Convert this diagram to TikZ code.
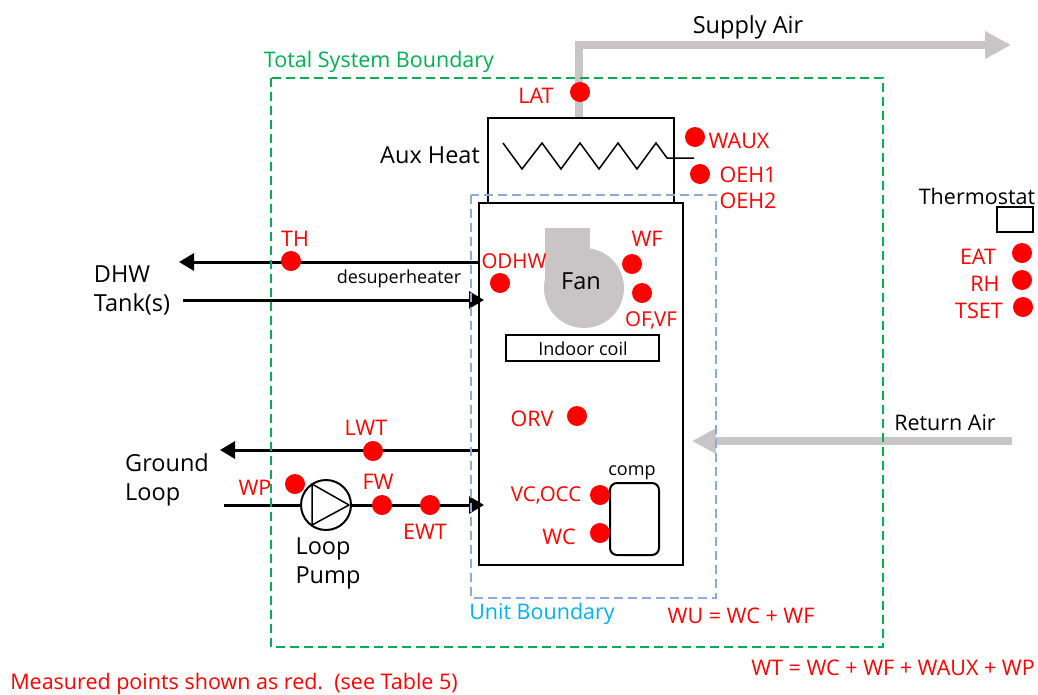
\documentclass[tikz,border=0pt]{standalone}
\usepackage{fontspec}
\setmainfont{Open Sans}
\usetikzlibrary{arrows,arrows.meta,shapes,positioning}
\definecolor{duct}{HTML}{C9C5C6}
\definecolor{totalgreen}{HTML}{00B050}
\definecolor{unitblue}{HTML}{8EAADB}
\definecolor{unittext}{HTML}{00B0F0}
\tikzset{
  txt/.style={inner sep=0pt, yshift=-1pt, font=\fontsize{21.5}{29}\selectfont, align=left},
  bigtxt/.style={txt, yshift=-1pt, font=\fontsize{23.5}{29}\selectfont},
  smalltxt/.style={inner sep=0pt, font=\fontsize{18}{20}\selectfont},
  redtxt/.style={txt, text=red},
  dot/.style={circle, fill=red, inner sep=0pt, minimum size=20pt},
  box/.style={draw=black, line width=2pt},
  pipe/.style={black, line width=3pt},
  piperr/.style={pipe, -{Triangle[length=15pt,width=17pt]}},
  ductline/.style={duct, line width=8pt},
  boundary/.style={line width=2pt, dash pattern=on 9pt off 5pt}
}
\begin{document}
\begin{tikzpicture}[x=1pt,y=-1pt]
	\useasboundingbox (0,0) rectangle (1038,694);
	% air ducts
	\coordinate (supplybot) at (579,118);
	\coordinate (supplycor) at (579,45);
	\coordinate (supplyend) at (1011,45);
	\coordinate (returnbeg) at (1012,441);
	\coordinate (returnend) at (692,441);
	\draw [ductline, -{Triangle[length=26pt,width=26pt]}] (supplybot) -- (supplycor) -- (supplyend);
	\draw [ductline, -{Triangle[length=24pt,width=24pt]}] (returnbeg) -- (returnend);
	% boxes
	\node [box, minimum width=186pt, minimum height=85pt, inner sep=0pt] (auxbox) at (581,160.5) {};
	\node [box, minimum width=204pt, minimum height=362pt, inner sep=0pt] (unitbox) at (581,384) {};
	\node [box, minimum width=153pt, minimum height=26pt, inner sep=0pt, line width=1.5pt] (coilbox) at (582.5,348) {};
	\node [box, minimum width=36pt, minimum height=25pt, inner sep=0pt, line width=1.5pt] (statbox) at (1015,219.5) {};
	\node [box, rounded corners=7pt, minimum width=49pt, minimum height=72pt, inner sep=0pt] (compbox) at (634.5,519) {};
	% heater coil
	\coordinate (coilend) at (694,158);
	\draw [line width=1.5pt] (503,143) -- (522,169) -- (542,143) -- (561,169) -- (580,143) -- (599,169)
		-- (618,143) -- (637,169) -- (656,143) -- (667,158) -- (coilend);
	% fan
	\fill [duct] (545,228) rectangle (590,290);
	\fill [duct] (584,288) circle (40);
	% pipes
	\coordinate (thbeg) at (479,262);
	\coordinate (thend) at (179,262);
	\coordinate (shbeg) at (183,300);
	\coordinate (shend) at (484,300);
	\coordinate (lwtbeg) at (479,450);
	\coordinate (lwtend) at (220,450);
	\coordinate (ewtbeg) at (224,505);
	\coordinate (ewtend) at (484,505);
	\node [draw=black, circle, line width=2pt, minimum size=50pt, inner sep=0pt] (pump) at (326,505) {};
	\draw [piperr] (thbeg) -- (thend);
	\draw [piperr] (shbeg) -- (shend);
	\draw [piperr] (lwtbeg) -- (lwtend);
	\draw [pipe] (ewtbeg) -- (pump.west);
	\draw [piperr] (pump.east) -- (ewtend);
	\draw [line width=1.5pt, line join=round] (312,484) -- (349,505) -- (312,525) -- cycle;
	% boundaries
	\draw [boundary, totalgreen] (271,78) rectangle (883,647);
	\draw [boundary, unitblue] (471,195) rectangle (716,598);
	% measured points
	\node [dot] (dotLAT) at (580,92) {};
	\node [dot] (dotWAUX) at (695,137) {};
	\node [dot] (dotOEH) at (700,174) {};
	\node [dot] (dotTH) at (291,261) {};
	\node [dot] (dotODHW) at (500,283) {};
	\node [dot] (dotWF) at (632,264) {};
	\node [dot] (dotOFVF) at (642,293) {};
	\node [dot] (dotORV) at (577,416) {};
	\node [dot] (dotLWT) at (373,451) {};
	\node [dot] (dotWP) at (295,484) {};
	\node [dot] (dotFW) at (382,505) {};
	\node [dot] (dotEWT) at (430,505) {};
	\node [dot] (dotVC) at (600,495) {};
	\node [dot] (dotWC) at (600,533) {};
	\node [dot] (dotEAT) at (1022,253) {};
	\node [dot] (dotRH) at (1022,280) {};
	\node [dot] (dotTSET) at (1023,307) {};
	% labels
	\node [bigtxt] (supply) at (748,25) {Supply Air};
	\node [txt, text=totalgreen] (total) at (379,61) {Total System Boundary};
	\node [redtxt] (labLAT) at (536,95) {LAT};
	\node [bigtxt] (aux) at (430,153) {Aux Heat};
	\node [redtxt] (labWAUX) at (739,140) {WAUX};
	\node [redtxt] (labOEHa) at (748,174) {OEH1};
	\node [redtxt] (labOEHb) at (748,200) {OEH2};
	\node [txt] (stat) at (977,195) {Thermostat};
	\node [redtxt] (labEAT) at (978,256) {EAT};
	\node [redtxt] (labRH) at (985,283) {RH};
	\node [redtxt] (labTSET) at (979,310) {TSET};
	\node [redtxt] (labTH) at (295,238) {TH};
	\node [redtxt, font=\fontsize{20.5}{29}\selectfont] (labODHW) at (514,260) {ODHW};
	\node [redtxt] (labWF) at (647,238) {WF};
	\node [smalltxt] (desup) at (399,279) {desuperheater};
	\node [bigtxt] (fan) at (581,279) {Fan};
	\node [redtxt, font=\fontsize{20.5}{29}\selectfont] (labOFVF) at (651,319) {OF,VF};
	\node [bigtxt] (dhw) at (132,288) {DHW\\Tank(s)};
	\node [smalltxt] (coil) at (583,349) {Indoor coil};
	\node [redtxt] (labORV) at (532,418) {ORV};
	\node [redtxt] (labLWT) at (366,427) {LWT};
	\node [txt] (ret) at (945,422) {Return Air};
	\node [bigtxt] (ground) at (167,478) {Ground\\Loop};
	\node [redtxt] (labWP) at (255,487) {WP};
	\node [redtxt] (labFW) at (378,481) {FW};
	\node [redtxt] (labEWT) at (425,531) {EWT};
	\node [redtxt, font=\fontsize{20.5}{29}\selectfont] (labVC) at (546,494) {VC,OCC};
	\node [redtxt] (labWC) at (559,536) {WC};
	\node [smalltxt, yshift=-3pt] (comp) at (632,470) {comp};
	\node [bigtxt] (looppump) at (328,561) {Loop\\Pump};
	\node [txt, text=unittext] (unit) at (542,613) {Unit Boundary};
	\node [redtxt] (wu) at (741,615) {WU = WC + WF};
	\node [redtxt] (wt) at (893,667) {WT = WC + WF + WAUX + WP};
	\node [redtxt] (note) at (234,683) {Measured points shown as red.\ \ (see Table 5)};
\end{tikzpicture}
\end{document}
